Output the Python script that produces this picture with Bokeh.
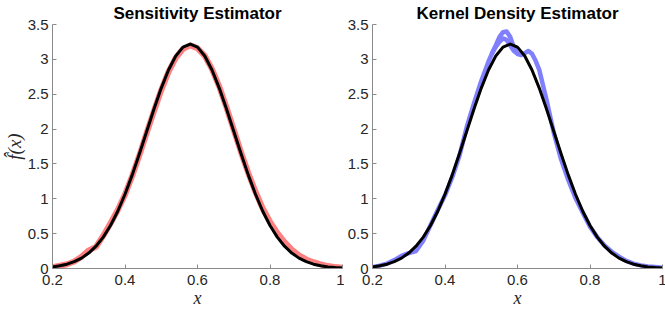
from bokeh.plotting import figure
from bokeh.layouts import row
from bokeh.models import Range1d, FixedTicker
from bokeh.embed import file_html
from bokeh.resources import INLINE

# ---- data ----
titles = ["Sensitivity Estimator", "Kernel Density Estimator"]
x_ticks = [0.2, 0.4, 0.6, 0.8, 1.0]
x_tick_labels = ["0.2", "0.4", "0.6", "0.8", "1"]
y_ticks = [0, 0.5, 1, 1.5, 2, 2.5, 3, 3.5]
y_tick_labels = ["0", "0.5", "1", "1.5", "2", "2.5", "3", "3.5"]

# true density (black), both panels
x_true = [0.20, 0.22, 0.24, 0.26, 0.28, 0.30, 0.32, 0.34, 0.36, 0.38,
          0.40, 0.42, 0.44, 0.46, 0.48, 0.50, 0.52, 0.54, 0.56, 0.58,
          0.60, 0.62, 0.64, 0.66, 0.68, 0.70, 0.72, 0.74, 0.76, 0.78,
          0.80, 0.82, 0.84, 0.86, 0.88, 0.90, 0.92, 0.94, 0.96, 0.98, 1.00]
y_true = [0.023, 0.039, 0.062, 0.098, 0.149, 0.221, 0.320, 0.450, 0.617, 0.821,
          1.065, 1.343, 1.649, 1.969, 2.288, 2.588, 2.847, 3.049, 3.176, 3.220,
          3.176, 3.049, 2.847, 2.588, 2.288, 1.969, 1.649, 1.343, 1.065, 0.821,
          0.617, 0.450, 0.320, 0.221, 0.149, 0.098, 0.062, 0.039, 0.023, 0.014, 0.008]

# sensitivity estimate (red)
x_sens = x_true
y_sens = [0.02, 0.04, 0.06, 0.10, 0.17, 0.26, 0.31, 0.47, 0.65, 0.84,
          1.06, 1.33, 1.63, 1.95, 2.26, 2.56, 2.82, 3.02, 3.15, 3.20,
          3.16, 3.05, 2.86, 2.61, 2.31, 1.99, 1.67, 1.37, 1.10, 0.86,
          0.67, 0.51, 0.38, 0.27, 0.19, 0.13, 0.09, 0.06, 0.035, 0.02, 0.01]

# kernel density estimate (blue)
x_kde = [0.20, 0.22, 0.24, 0.26, 0.28, 0.30, 0.32, 0.34, 0.36, 0.38,
         0.40, 0.42, 0.44, 0.46, 0.48, 0.50, 0.52,
         0.53, 0.54, 0.55, 0.56, 0.57, 0.58, 0.59, 0.60, 0.61, 0.62,
         0.63, 0.64, 0.65, 0.66,
         0.68, 0.70, 0.72, 0.74, 0.76, 0.78, 0.80, 0.82, 0.84, 0.86,
         0.88, 0.90, 0.92, 0.94, 0.96, 0.98, 1.00]
y_kde = [0.02, 0.04, 0.07, 0.12, 0.18, 0.22, 0.25, 0.40, 0.62, 0.84,
         1.05, 1.31, 1.62, 2.03, 2.37, 2.69, 2.97,
         3.09, 3.20, 3.32, 3.39, 3.40, 3.32, 3.17, 3.08, 3.06, 3.09,
         3.12, 3.08, 2.98, 2.85,
         2.42, 1.95, 1.57, 1.27, 1.01, 0.80, 0.60, 0.45, 0.33, 0.24,
         0.17, 0.11, 0.07, 0.045, 0.03, 0.02, 0.01]
# second blue trace near the peak
x_kde2 = [0.53, 0.54, 0.55, 0.56, 0.57, 0.58, 0.59, 0.60]
y_kde2 = [3.09, 3.18, 3.25, 3.30, 3.28, 3.20, 3.12, 3.08]

SANS = "Liberation Sans"
SERIF = "Liberation Serif"
AXIS_COLOR = "#8a8a8a"
LABEL_COLOR = "#262626"


def make_panel(title, left_border, right_border, ylabel):
    p = figure(frame_width=290, frame_height=244, x_range=Range1d(0.2, 1.0), y_range=Range1d(0, 3.5),
               output_backend="svg", toolbar_location=None,
               min_border_left=left_border, min_border_right=right_border,
               min_border_top=24, min_border_bottom=43)
    p.grid.visible = False
    p.outline_line_color = None
    p.background_fill_color = "white"
    p.border_fill_color = "white"

    p.title.text = title
    p.title.align = "center"
    p.title.vertical_align = "top"
    p.title.text_font = SANS
    p.title.text_font_style = "bold"
    p.title.text_font_size = "17px"
    p.title.text_color = "black"
    p.title.standoff = 0

    for ax, ticks, labels in ((p.xaxis[0], x_ticks, x_tick_labels), (p.yaxis[0], y_ticks, y_tick_labels)):
        ax.ticker = FixedTicker(ticks=ticks)
        ax.major_label_overrides = {t: l for t, l in zip(ticks, labels)}
        ax.axis_line_color = AXIS_COLOR
        ax.major_tick_line_color = AXIS_COLOR
        ax.major_tick_in = 4
        ax.major_tick_out = 0
        ax.minor_tick_line_color = None
        ax.major_label_text_font = SANS
        ax.major_label_text_font_size = "15px"
        ax.major_label_text_color = LABEL_COLOR
        ax.axis_label_text_font = SERIF
        ax.axis_label_text_font_style = "italic"
        ax.axis_label_text_color = LABEL_COLOR
    p.xaxis.major_label_standoff = 6
    p.yaxis.major_label_standoff = 4
    p.xaxis.axis_label = "x"
    p.xaxis.axis_label_text_font_size = "18px"
    p.xaxis.axis_label_standoff = 0
    if ylabel:
        p.yaxis.axis_label = ylabel
        p.yaxis.axis_label_text_font_size = "19px"
        p.yaxis.axis_label_standoff = 0
    return p


p1 = make_panel(titles[0], 51, 2, "f\u0302(x)")
p1.line(x_sens, y_sens, line_color="#ff8080", line_width=6, line_join="round", line_cap="round")
p1.line(x_true, y_true, line_color="black", line_width=3, line_join="round", line_cap="round")

p2 = make_panel(titles[1], 27, 4, None)
p2.line(x_kde, y_kde, line_color="#8080ff", line_width=4.5, line_join="round", line_cap="round")
p2.line(x_kde2, y_kde2, line_color="#8080ff", line_width=4.5, line_join="round", line_cap="round")
p2.line(x_true, y_true, line_color="black", line_width=3, line_join="round", line_cap="round")

layout = row(p1, p2, spacing=0)

with open("out.html", "w") as f:
    f.write(file_html(layout, INLINE))
